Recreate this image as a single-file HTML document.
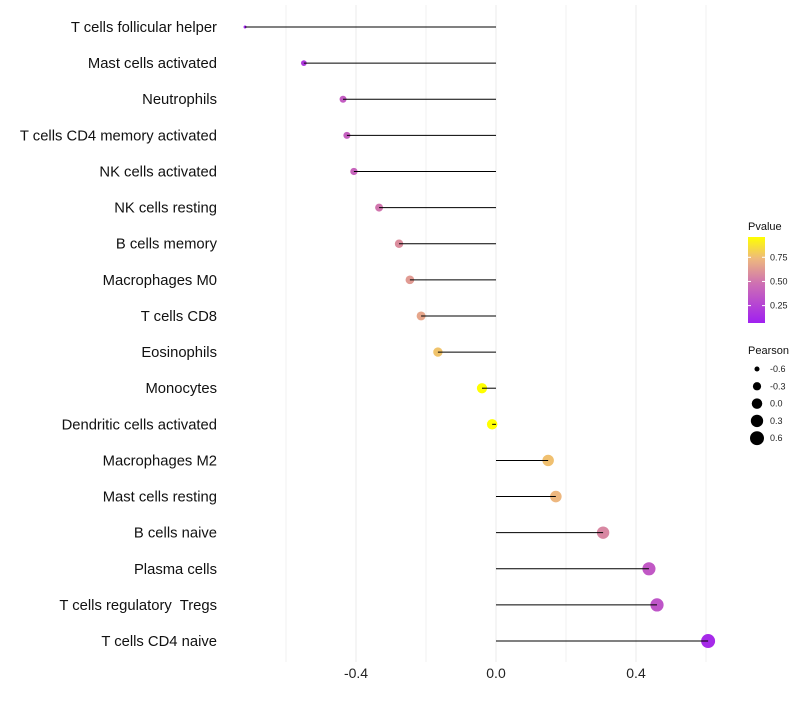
<!DOCTYPE html>
<html><head><meta charset="utf-8"><style>
body{margin:0;background:#fff;font-family:"Liberation Sans",sans-serif}
</style></head><body>
<svg id="c" width="800" height="700" xmlns="http://www.w3.org/2000/svg"></svg>
<script>
const categories=["T cells follicular helper","Mast cells activated","Neutrophils","T cells CD4 memory activated","NK cells activated","NK cells resting","B cells memory","Macrophages M0","T cells CD8","Eosinophils","Monocytes","Dendritic cells activated","Macrophages M2","Mast cells resting","B cells naive","Plasma cells","T cells regulatory  Tregs","T cells CD4 naive"];
const pearson=[-0.717,-0.549,-0.437,-0.426,-0.406,-0.334,-0.277,-0.246,-0.214,-0.166,-0.04,-0.011,0.149,0.171,0.306,0.437,0.46,0.606];
const pvalue=[0.08,0.2,0.38,0.4,0.42,0.5,0.58,0.63,0.67,0.77,0.96,0.97,0.76,0.73,0.56,0.36,0.34,0.12];
const xTicks=[-0.4,0,0.4];
const xMinor=[-0.6,-0.2,0.2,0.6];
const pTicks=[0.25,0.5,0.75];
const sizeTicks=[-0.6,-0.3,0,0.3,0.6];
const NS="http://www.w3.org/2000/svg",svg=document.getElementById('c');
const X=v=>496+v*350, Y=i=>27+i*36.12;
const R=v=>Math.sqrt(2.25+(v+0.717)/1.323*46.75);
const stops=[[0,[160,32,240]],[0.45,[205,110,180]],[0.75,[238,185,125]],[1,[255,255,0]]];
function col(p){const t=Math.max(0,Math.min(1,(p-0.07)/0.89));for(let k=1;k<stops.length;k++){if(t<=stops[k][0]){const a=stops[k-1],b=stops[k],f=(t-a[0])/(b[0]-a[0]);return 'rgb('+a[1].map((c,j)=>Math.round(c+(b[1][j]-c)*f)).join(',')+')';}}return 'rgb(255,255,0)';}
function el(t,at,txt){const e=document.createElementNS(NS,t);for(const k in at)e.setAttribute(k,at[k]);if(txt!=null)e.textContent=txt;svg.appendChild(e);return e;}
xMinor.forEach(v=>{const l=el('line',{x1:X(v),x2:X(v),y1:5,y2:662,stroke:'#f0f0f0','stroke-width':1});});
xTicks.forEach(v=>{const l=el('line',{x1:X(v),x2:X(v),y1:5,y2:662,stroke:'#ebebeb','stroke-width':1});
const t=el('text',{x:X(v),y:678,'text-anchor':'middle','font-size':14,fill:'#222'},v===0?'0.0':v.toFixed(1));});
categories.forEach((c,i)=>{const t=el('text',{x:217,y:Y(i)+5,'text-anchor':'end','font-size':14.8,fill:'#111',style:'white-space:pre'},c);
const d=el('circle',{cx:X(pearson[i]),cy:Y(i),r:R(pearson[i]),fill:col(pvalue[i])});
const l=el('line',{x1:X(0),x2:X(pearson[i]),y1:Y(i),y2:Y(i),stroke:'#000','stroke-width':1});});
let t=el('text',{x:748,y:230,'font-size':11,fill:'#111'},'Pvalue');
const defs=el('defs',{});const g=document.createElementNS(NS,'linearGradient');g.setAttribute('id','gr');g.setAttribute('x1','0');g.setAttribute('x2','0');g.setAttribute('y1','1');g.setAttribute('y2','0');defs.appendChild(g);
stops.forEach(s=>{const st=document.createElementNS(NS,'stop');st.setAttribute('offset',s[0]);st.setAttribute('stop-color','rgb('+s[1].join(',')+')');g.appendChild(st);});
const PY=p=>323-(p-0.07)/0.89*86;
let r=el('rect',{x:748,y:237,width:17,height:86,fill:'url(#gr)'});
pTicks.forEach(p=>{el('line',{x1:748,x2:751,y1:PY(p),y2:PY(p),stroke:'#fff'});el('line',{x1:762,x2:765,y1:PY(p),y2:PY(p),stroke:'#fff'});const tt=el('text',{x:770,y:PY(p)+3,'font-size':9,fill:'#222'},p.toFixed(2));});
t=el('text',{x:748,y:354,'font-size':11,fill:'#111'},'Pearson');
sizeTicks.forEach((v,k)=>{const y=369+k*17.3;const c=el('circle',{cx:757,cy:y,r:R(v),fill:'#000'});
const tt=el('text',{x:770,y:y+3,'font-size':9,fill:'#222'},v.toFixed(1));});
</script>
</body></html>
